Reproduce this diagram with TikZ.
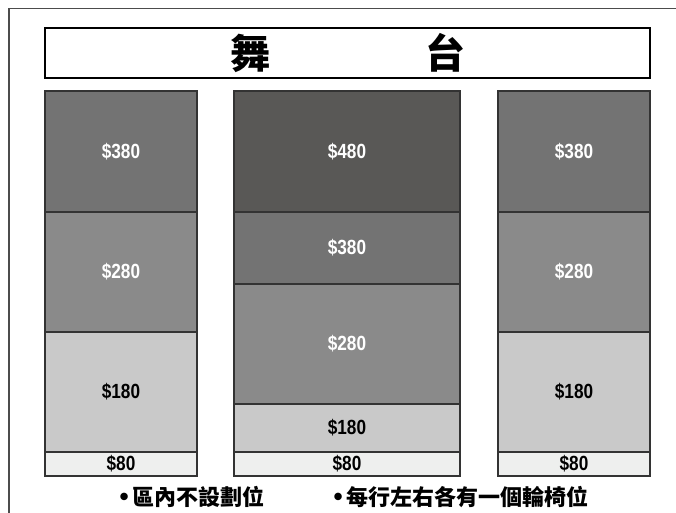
\documentclass[tikz,border=0pt]{standalone}
\usepackage{fontspec}
\setmainfont{Liberation Sans}[FakeStretch=0.84]
\newfontfamily\cjk{Noto Sans CJK TC}
\newfontfamily\bulletfont{Liberation Sans}
\newcommand\notebullet{{\bulletfont\fontsize{26bp}{26bp}\selectfont•}\hspace{4bp}}
\definecolor{tierA}{HTML}{595856}
\definecolor{tierB}{HTML}{737373}
\definecolor{tierC}{HTML}{8A8A8A}
\definecolor{tierD}{HTML}{C9C9C9}
\definecolor{tierE}{HTML}{EEEFEE}
\definecolor{edgegray}{HTML}{333333}
\begin{document}
\begin{tikzpicture}[x=1bp,y=-1bp,
  block/.style={draw=edgegray,line width=1.2bp,inner sep=0pt,
    font=\bfseries\fontsize{20.5bp}{22bp}\selectfont},
  sidecol/.style={block,minimum width=152bp},
  midcol/.style={block,minimum width=226bp},
  note/.style={inner sep=0pt,font=\cjk\bfseries\fontsize{22bp}{24bp}\selectfont}]
\useasboundingbox (0,0) rectangle (676,513);
\draw[gray!60!black,line width=1.2bp] (676,8.5)--(9,8.5)--(9,513);
% stage
\node[draw=black,line width=1.2bp,minimum width=605bp,minimum height=50bp,inner sep=0pt,
  font=\cjk\bfseries\fontsize{40bp}{42bp}\selectfont] (stage) at (347.5,53) {舞\hspace{155bp}台};
% left block
\node[sidecol,fill=tierB,text=white,minimum height=121bp] (L380) at (121,151.5) {\$380};
\node[sidecol,fill=tierC,text=white,minimum height=120bp] (L280) at (121,272) {\$280};
\node[sidecol,fill=tierD,minimum height=120bp] (L180) at (121,392) {\$180};
\node[sidecol,fill=tierE,minimum height=24bp] (L80) at (121,464) {\$80};
% middle block
\node[midcol,fill=tierA,text=white,minimum height=121bp] (M480) at (347,151.5) {\$480};
\node[midcol,fill=tierB,text=white,minimum height=72bp] (M380) at (347,248) {\$380};
\node[midcol,fill=tierC,text=white,minimum height=120bp] (M280) at (347,344) {\$280};
\node[midcol,fill=tierD,minimum height=48bp] (M180) at (347,428) {\$180};
\node[midcol,fill=tierE,minimum height=24bp] (M80) at (347,464) {\$80};
% right block
\node[sidecol,fill=tierB,text=white,minimum height=121bp] (R380) at (574,151.5) {\$380};
\node[sidecol,fill=tierC,text=white,minimum height=120bp] (R280) at (574,272) {\$280};
\node[sidecol,fill=tierD,minimum height=120bp] (R180) at (574,392) {\$180};
\node[sidecol,fill=tierE,minimum height=24bp] (R80) at (574,464) {\$80};
% notes
\node[note,anchor=base east] (noteA) at (265,505) {\notebullet 區內不設劃位};
\node[note,anchor=base east] (noteB) at (589,505) {\notebullet 每行左右各有一個輪椅位};
\end{tikzpicture}
\end{document}
